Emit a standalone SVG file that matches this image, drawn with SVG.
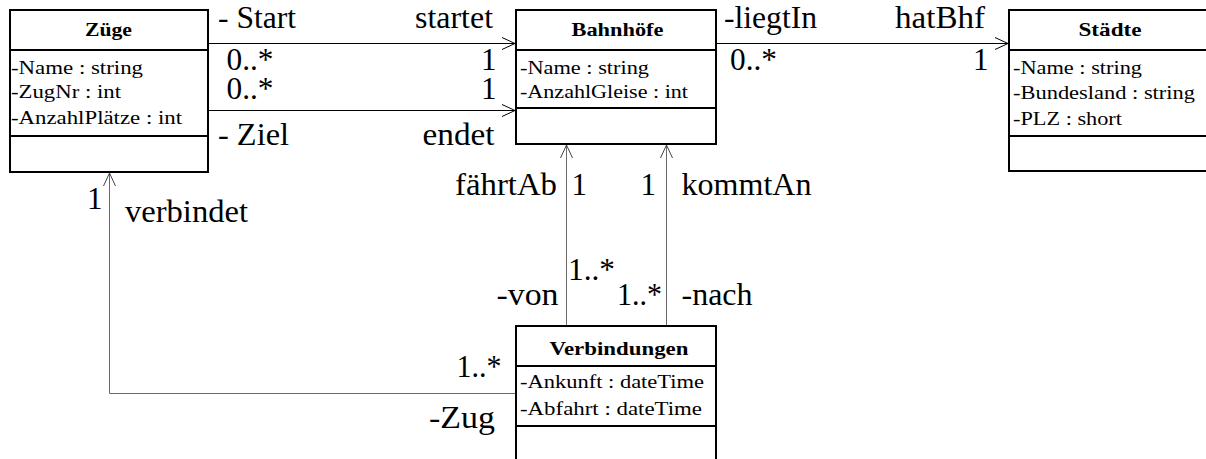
<svg xmlns="http://www.w3.org/2000/svg" width="1206" height="459" viewBox="0 0 1206 459">
<style>
.box{fill:#fff;stroke:#000;stroke-width:2}
.sep{stroke:#000;stroke-width:2}
.ln{fill:none;stroke:#000;stroke-width:1}
.lg{fill:none;stroke:#6a6a6a;stroke-width:1}
.cn{font-size:19px;font-weight:bold}
.at{font-size:19.5px}
</style>
<defs>
<marker id="arrK" markerWidth="16" markerHeight="14" refX="14" refY="7" orient="auto" markerUnits="userSpaceOnUse" viewBox="0 0 16 14"><path d="M1,1 L14,7 L1,13" fill="none" stroke="#000" stroke-width="1"/></marker>
<marker id="arrG" markerWidth="16" markerHeight="14" refX="14" refY="7" orient="auto" markerUnits="userSpaceOnUse" viewBox="0 0 16 14"><path d="M1,1 L14,7 L1,13" fill="none" stroke="#444" stroke-width="1"/></marker>
</defs>
<rect width="1206" height="459" fill="#fff"/>
<g id="connectors">
<path class="ln" d="M208,43.5 H515" marker-end="url(#arrK)"/>
<path class="ln" d="M208,110.5 H515" marker-end="url(#arrK)"/>
<path class="ln" d="M716,43.5 H1008" marker-end="url(#arrK)"/>
<path class="lg" d="M566.5,326 V145" marker-end="url(#arrG)"/>
<path class="lg" d="M666.5,326 V145" marker-end="url(#arrG)"/>
<path class="lg" d="M516,393.5 H109.5 V173" marker-end="url(#arrG)"/>
<g font-family="Liberation Serif, DejaVu Serif, serif" font-size="31" fill="#000">
<text x="218" y="28" textLength="78" lengthAdjust="spacingAndGlyphs">- Start</text>
<text x="415" y="28" textLength="78" lengthAdjust="spacingAndGlyphs">startet</text>
<text x="226.5" y="70" textLength="47" lengthAdjust="spacingAndGlyphs">0..*</text>
<text x="481" y="70">1</text>
<text x="226.5" y="99" textLength="47" lengthAdjust="spacingAndGlyphs">0..*</text>
<text x="481" y="99">1</text>
<text x="218" y="145" textLength="71" lengthAdjust="spacingAndGlyphs">- Ziel</text>
<text x="422.5" y="145" textLength="72" lengthAdjust="spacingAndGlyphs">endet</text>
<text x="724" y="28" textLength="93" lengthAdjust="spacingAndGlyphs">-liegtIn</text>
<text x="730" y="70" textLength="47" lengthAdjust="spacingAndGlyphs">0..*</text>
<text x="895" y="28" textLength="90" lengthAdjust="spacingAndGlyphs">hatBhf</text>
<text x="973" y="70">1</text>
<text x="455" y="195" textLength="102" lengthAdjust="spacingAndGlyphs">fährtAb</text>
<text x="571.5" y="195">1</text>
<text x="640.5" y="195">1</text>
<text x="681.5" y="195" textLength="130" lengthAdjust="spacingAndGlyphs">kommtAn</text>
<text x="568" y="280" textLength="47" lengthAdjust="spacingAndGlyphs">1..*</text>
<text x="496.5" y="305" textLength="62" lengthAdjust="spacingAndGlyphs">-von</text>
<text x="617" y="305" textLength="45" lengthAdjust="spacingAndGlyphs">1..*</text>
<text x="681.5" y="305" textLength="71" lengthAdjust="spacingAndGlyphs">-nach</text>
<text x="456.5" y="377" textLength="45" lengthAdjust="spacingAndGlyphs">1..*</text>
<text x="429" y="428" textLength="66" lengthAdjust="spacingAndGlyphs">-Zug</text>
<text x="87" y="209">1</text>
<text x="125" y="222" textLength="123" lengthAdjust="spacingAndGlyphs">verbindet</text>
</g>
</g>
<g id="zuege" font-family="Liberation Serif, DejaVu Serif, serif" fill="#000">
<rect class="box" x="10" y="10" width="198" height="162"/>
<line class="sep" x1="10" y1="50" x2="208" y2="50"/>
<line class="sep" x1="10" y1="136" x2="208" y2="136"/>
<text class="cn" x="85" y="36" textLength="47" lengthAdjust="spacingAndGlyphs">Züge</text>
<text class="at" x="11" y="74" textLength="132" lengthAdjust="spacingAndGlyphs">-Name : string</text>
<text class="at" x="11" y="98" textLength="110" lengthAdjust="spacingAndGlyphs">-ZugNr : int</text>
<text class="at" x="11" y="124" textLength="171" lengthAdjust="spacingAndGlyphs">-AnzahlPlätze : int</text>
</g>
<g id="bahnhoefe" font-family="Liberation Serif, DejaVu Serif, serif" fill="#000">
<rect class="box" x="516" y="10" width="200" height="134"/>
<line class="sep" x1="516" y1="50" x2="716" y2="50"/>
<line class="sep" x1="516" y1="108" x2="716" y2="108"/>
<text class="cn" x="571.5" y="36" textLength="92" lengthAdjust="spacingAndGlyphs">Bahnhöfe</text>
<text class="at" x="520" y="74" textLength="129" lengthAdjust="spacingAndGlyphs">-Name : string</text>
<text class="at" x="520" y="98" textLength="168" lengthAdjust="spacingAndGlyphs">-AnzahlGleise : int</text>
</g>
<g id="staedte" font-family="Liberation Serif, DejaVu Serif, serif" fill="#000">
<rect class="box" x="1009" y="10" width="202" height="161"/>
<line class="sep" x1="1009" y1="50" x2="1211" y2="50"/>
<line class="sep" x1="1009" y1="136" x2="1211" y2="136"/>
<text class="cn" x="1078.5" y="36" textLength="63" lengthAdjust="spacingAndGlyphs">Städte</text>
<text class="at" x="1013" y="74" textLength="129" lengthAdjust="spacingAndGlyphs">-Name : string</text>
<text class="at" x="1013" y="99" textLength="182" lengthAdjust="spacingAndGlyphs">-Bundesland : string</text>
<text class="at" x="1013" y="125" textLength="109" lengthAdjust="spacingAndGlyphs">-PLZ : short</text>
</g>
<g id="verbindungen" font-family="Liberation Serif, DejaVu Serif, serif" fill="#000">
<rect class="box" x="516" y="326" width="200" height="150"/>
<line class="sep" x1="516" y1="366" x2="716" y2="366"/>
<line class="sep" x1="516" y1="426" x2="716" y2="426"/>
<text class="cn" x="549.5" y="355" textLength="139" lengthAdjust="spacingAndGlyphs">Verbindungen</text>
<text class="at" x="520" y="388" textLength="184" lengthAdjust="spacingAndGlyphs">-Ankunft : dateTime</text>
<text class="at" x="520" y="415" textLength="182" lengthAdjust="spacingAndGlyphs">-Abfahrt : dateTime</text>
</g>
</svg>
